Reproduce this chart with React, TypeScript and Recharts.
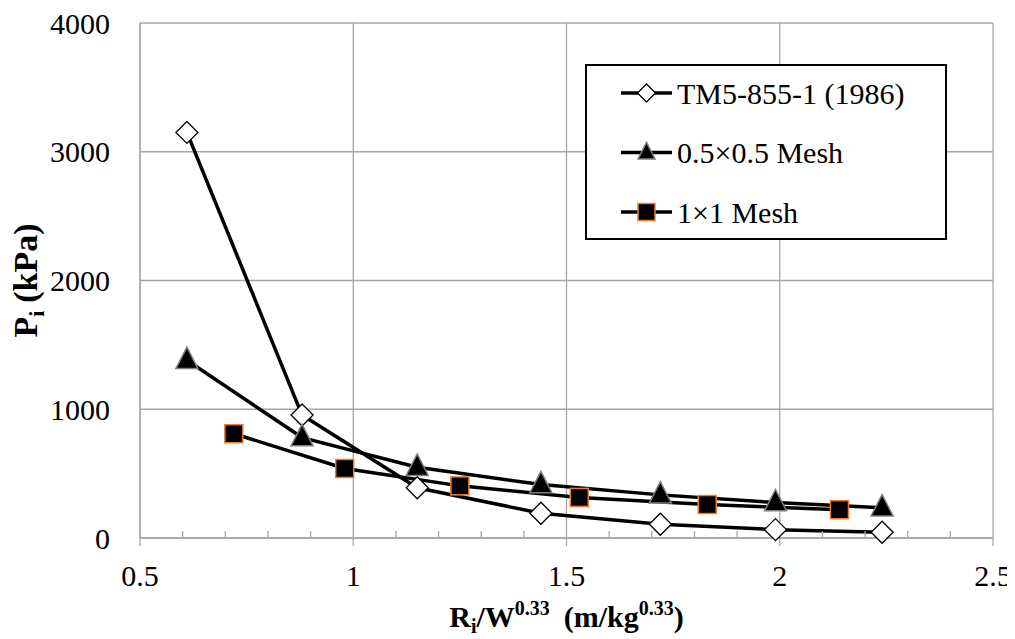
import { LineChart, Line, XAxis, YAxis, CartesianGrid, Legend, Label } from "recharts";

const FONT = "Liberation Serif, DejaVu Serif, serif";

// TM5-855-1 (1986)
const TM5_X = [0.61, 0.88, 1.15, 1.44, 1.72, 1.99, 2.24];
const TM5_P = [3150, 955, 390, 192, 107, 65, 45];
// 0.5x0.5 mesh
const MESH05_X = [0.61, 0.88, 1.15, 1.44, 1.72, 1.99, 2.24];
const MESH05_P = [1380, 780, 550, 415, 335, 275, 235];
// 1x1 mesh
const MESH1_X = [0.72, 0.98, 1.25, 1.53, 1.83, 2.14];
const MESH1_P = [810, 540, 405, 315, 260, 220];

const SERIES_NAMES = ["TM5-855-1 (1986)", "0.5×0.5 Mesh", "1×1 Mesh"];

const X_TICKS = [
  0.5, 0.6, 0.7, 0.8, 0.9, 1, 1.1, 1.2, 1.3, 1.4, 1.5, 1.6, 1.7, 1.8, 1.9, 2, 2.1, 2.2, 2.3, 2.4, 2.5,
];
const X_MAJOR = [0.5, 1, 1.5, 2, 2.5];
const Y_TICKS = [0, 1000, 2000, 3000, 4000];

const toRows = (xs: number[], ps: number[]) => xs.map((x, i) => ({ x, p: ps[i] }));
const tm5 = toRows(TM5_X, TM5_P);
const mesh05 = toRows(MESH05_X, MESH05_P);
const mesh1 = toRows(MESH1_X, MESH1_P);

const GRID = "#a6a6a6";
const textStyle = { fontFamily: FONT };

function Diamond({ cx, cy, r = 11 }: any) {
  return (
    <path
      d={`M${cx},${cy - r}L${cx + r},${cy}L${cx},${cy + r}L${cx - r},${cy}Z`}
      fill="#fff"
      stroke="#000"
      strokeWidth={1.3}
    />
  );
}

function Triangle({ cx, cy, s = 11 }: any) {
  return (
    <path
      d={`M${cx},${cy - s * 1.2}L${cx + s},${cy + s * 0.75}L${cx - s},${cy + s * 0.75}Z`}
      fill="#000"
      stroke="#7f7f7f"
      strokeWidth={1.5}
    />
  );
}

function Square({ cx, cy, s = 9 }: any) {
  return (
    <rect x={cx - s} y={cy - s} width={s * 2} height={s * 2} fill="#000" stroke="#ed7d31" strokeWidth={1.5} />
  );
}

function XTick(props: any) {
  const { x, y, payload } = props;
  const v = payload.value as number;
  const major = Math.abs(v * 2 - Math.round(v * 2)) < 1e-6;
  if (!major) {
    return <line x1={x} x2={x} y1={y} y2={y - 7} stroke={GRID} strokeWidth={1.3} />;
  }
  return (
    <g>
      <line x1={x} x2={x} y1={y} y2={y + 8} stroke={GRID} strokeWidth={1.3} />
      <text x={x} y={y + 48} textAnchor="middle" fontSize={30} style={textStyle} fill="#000">
        {String(Math.round(v * 10) / 10)}
      </text>
    </g>
  );
}

function XTitle({ viewBox }: any) {
  const cx = viewBox.x + viewBox.width / 2;
  return (
    <text x={cx} y={619} textAnchor="middle" fontSize={30} fontWeight="bold" style={textStyle} fill="#000">
      <tspan>R</tspan>
      <tspan fontSize={20} dy={6}>i</tspan>
      <tspan dy={-6}>/W</tspan>
      <tspan fontSize={20} dy={-12}>0.33</tspan>
      <tspan dy={12} dx={14}>(m/kg</tspan>
      <tspan fontSize={20} dy={-12}>0.33</tspan>
      <tspan dy={12}>)</tspan>
    </text>
  );
}

function YTitle({ viewBox }: any) {
  const cy = viewBox.y + viewBox.height / 2;
  const bx = 29;
  return (
    <text
      x={bx}
      y={cy}
      transform={`rotate(-90 ${bx} ${cy})`}
      textAnchor="middle"
      fontSize={34}
      fontWeight="bold"
      style={textStyle}
      fill="#000"
    >
      <tspan>P</tspan>
      <tspan fontSize={22} dy={7}>i</tspan>
      <tspan dy={-7} dx={8}>(kPa)</tspan>
    </text>
  );
}

const MARKERS = [
  (cx: number, cy: number) => <Diamond cx={cx} cy={cy} r={9} />,
  (cx: number, cy: number) => <Triangle cx={cx} cy={cy} s={8.5} />,
  (cx: number, cy: number) => <Square cx={cx} cy={cy} s={8.5} />,
];

function LegendBox() {
  return (
    <div
      style={{
        width: 362,
        height: 176,
        boxSizing: "border-box",
        border: "2px solid #000",
        background: "#fff",
      }}
    >
      <svg width={358} height={172} style={{ display: "block" }}>
        {SERIES_NAMES.map((name, i) => {
          const cy = 27 + i * 59.5;
          return (
            <g key={name}>
              <line x1={34} x2={85} y1={cy} y2={cy} stroke="#000" strokeWidth={3.5} />
              {MARKERS[i](59.5, cy)}
              <text x={90} y={cy} dy="0.35em" fontSize={30} style={textStyle} fill="#000">
                {name}
              </text>
            </g>
          );
        })}
      </svg>
    </div>
  );
}

export default function App() {
  return (
    <LineChart width={1007} height={630} margin={{ top: 15, right: 22, left: 0, bottom: 0 }}>
      <CartesianGrid stroke={GRID} strokeWidth={1.3} verticalValues={X_MAJOR} />
      <XAxis
        dataKey="x"
        type="number"
        domain={[0.5, 2.5]}
        ticks={X_TICKS}
        interval={0}
        tick={<XTick />}
        tickLine={false}
        tickSize={0}
        tickMargin={0}
        height={100}
        axisLine={{ stroke: GRID, strokeWidth: 1.3 }}
        allowDuplicatedCategory={false}
      >
        <Label content={<XTitle />} />
      </XAxis>
      <YAxis
        type="number"
        domain={[0, 4000]}
        ticks={Y_TICKS}
        interval={0}
        width={132}
        tickLine={false}
        tickSize={0}
        tickMargin={30}
        tick={{ fontSize: 30, fill: "#000", style: textStyle }}
        axisLine={{ stroke: GRID, strokeWidth: 1.3 }}
      >
        <Label content={<YTitle />} />
      </YAxis>
      <Legend
        layout="vertical"
        align="center"
        verticalAlign="middle"
        content={<LegendBox />}
        wrapperStyle={{ left: 577, top: 56, width: 362, height: 176 }}
      />
      <Line
        data={tm5}
        dataKey="p"
        name={SERIES_NAMES[0]}
        stroke="#000"
        strokeWidth={3.5}
        isAnimationActive={false}
        dot={(p: any) => <Diamond key={`d${p.index}`} cx={p.cx} cy={p.cy} />}
      />
      <Line
        data={mesh05}
        dataKey="p"
        name={SERIES_NAMES[1]}
        stroke="#000"
        strokeWidth={3.5}
        isAnimationActive={false}
        dot={(p: any) => <Triangle key={`t${p.index}`} cx={p.cx} cy={p.cy} />}
      />
      <Line
        data={mesh1}
        dataKey="p"
        name={SERIES_NAMES[2]}
        stroke="#000"
        strokeWidth={3.5}
        isAnimationActive={false}
        dot={(p: any) => <Square key={`s${p.index}`} cx={p.cx} cy={p.cy} />}
      />
    </LineChart>
  );
}
